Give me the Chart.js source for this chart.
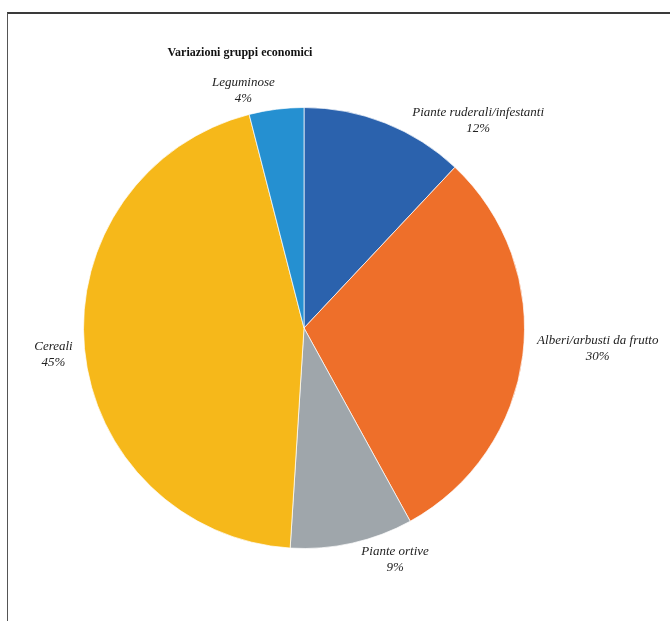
<!DOCTYPE html>
<html>
<head>
<meta charset="utf-8">
<script src="https://cdn.jsdelivr.net/npm/chart.js@4"></script>
<style>
  html, body { margin: 0; padding: 0; background: #fff; }
  #wrap { position: relative; width: 670px; height: 621px; }
  #frame { position: absolute; left: 7px; top: 12px; right: 0; bottom: 0;
           border-top: 2px solid #3a3a3a; border-left: 1px solid #555; pointer-events: none; }
  canvas { position: absolute; left: 0; top: 0; }
</style>
</head>
<body>
<div id="wrap">
  <canvas id="chart" width="670" height="621"></canvas>
  <div id="frame"></div>
</div>
<script>
const categories = ['Piante ruderali/infestanti', 'Alberi/arbusti da frutto', 'Piante ortive', 'Cereali', 'Leguminose'];
const values = [12, 30, 9, 45, 4];
const colors = ['#2b62ad', '#ee6f2a', '#9fa6ab', '#f6b81a', '#2590d1'];
// where each label sits, relative to the outer middle of its slice
const labelOffsets = [[93, -2], [75, -7], [43, 16], [-31, 6], [-33, -19]];

const titleText = 'Variazioni gruppi economici';

const sliceLabels = {
    id: 'sliceLabels',
    afterDatasetsDraw(chart) {
        const ctx = chart.ctx;
        const arcs = chart.getDatasetMeta(0).data;
        const total = values.reduce((a, b) => a + b, 0);
        ctx.save();
        ctx.font = 'italic 13px "Liberation Serif", "Times New Roman", serif';
        ctx.fillStyle = '#222';
        ctx.textAlign = 'center';
        ctx.textBaseline = 'middle';
        arcs.forEach((arc, i) => {
            const p = arc.getProps(['x', 'y', 'startAngle', 'endAngle', 'outerRadius'], true);
            const mid = (p.startAngle + p.endAngle) / 2;
            const ox = p.x + Math.cos(mid) * p.outerRadius + labelOffsets[i][0];
            const oy = p.y + Math.sin(mid) * p.outerRadius + labelOffsets[i][1];
            const pct = Math.round(values[i] / total * 100) + '%';
            ctx.fillText(categories[i], ox, oy - 8);
            ctx.fillText(pct, ox, oy + 8);
        });
        // chart title, sits left of the pie centre like the original
        ctx.font = 'bold 12px "Liberation Serif", "Times New Roman", serif';
        ctx.fillStyle = '#111';
        ctx.fillText(titleText, 240, 53);
        ctx.restore();
    }
};

new Chart(document.getElementById('chart'), {
    type: 'pie',
    data: {
        labels: categories,
        datasets: [{
            data: values,
            backgroundColor: colors,
            borderColor: 'rgba(255,255,255,0.7)',
            borderWidth: 1
        }]
    },
    options: {
        responsive: false,
        animation: false,
        layout: { padding: { left: 83, right: 145, top: 107, bottom: 72 } },
        plugins: {
            legend: { display: false },
            tooltip: { enabled: false },
            title: { display: false }
        }
    },
    plugins: [sliceLabels]
});
</script>
</body>
</html>
